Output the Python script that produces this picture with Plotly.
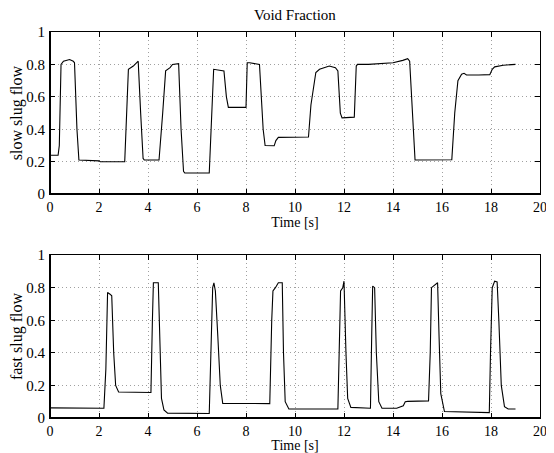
import plotly.graph_objects as go
from plotly.subplots import make_subplots

# Slow slug flow (top panel): time [s], void fraction
slow_t = [0, 0.33, 0.38, 0.45, 0.55, 0.8, 0.95, 1.0, 1.1, 1.18, 2.0, 2.05, 3.05, 3.2, 3.4, 3.6, 3.7, 3.8, 3.85,
          4.45, 4.6, 4.72, 4.9, 5.0, 5.25, 5.35, 5.45, 5.5, 6.5, 6.6, 6.68, 7.1, 7.2, 7.28, 8.0, 8.05, 8.15,
          8.55, 8.7, 8.78, 9.15, 9.22, 9.32, 10.55, 10.65, 10.85, 11.0, 11.4, 11.65, 11.75, 11.85, 11.92,
          12.42, 12.5, 12.55, 13.0, 14.0, 14.4, 14.6, 14.68, 14.8, 14.9, 16.4, 16.52, 16.65, 16.8, 16.9,
          17.0, 17.5, 17.95, 18.05, 18.15, 18.5, 19.0]
slow_v = [0.24, 0.24, 0.30, 0.80, 0.82, 0.83, 0.82, 0.81, 0.40, 0.21, 0.205, 0.20, 0.20, 0.77, 0.79, 0.82, 0.50, 0.22, 0.21,
          0.21, 0.50, 0.76, 0.78, 0.80, 0.805, 0.40, 0.14, 0.13, 0.13, 0.50, 0.77, 0.76, 0.60, 0.535, 0.535, 0.81, 0.81,
          0.80, 0.40, 0.30, 0.298, 0.33, 0.35, 0.352, 0.55, 0.75, 0.77, 0.79, 0.78, 0.76, 0.50, 0.47,
          0.475, 0.79, 0.80, 0.80, 0.81, 0.825, 0.835, 0.82, 0.50, 0.21, 0.212, 0.50, 0.70, 0.74, 0.745,
          0.735, 0.735, 0.737, 0.77, 0.785, 0.795, 0.80]

# Fast slug flow (bottom panel)
fast_t = [0, 2.2, 2.28, 2.35, 2.45, 2.52, 2.6, 2.68, 2.8, 4.12, 4.18, 4.22, 4.42, 4.48, 4.55, 4.65, 4.8,
          6.5, 6.58, 6.64, 6.69, 6.75, 6.85, 6.95, 7.05, 8.97, 9.05, 9.1, 9.2, 9.32, 9.48, 9.53, 9.6, 9.75,
          11.75, 11.82, 11.86, 11.95, 12.0, 12.08, 12.15, 12.28, 13.08, 13.13, 13.17, 13.25, 13.32, 13.42, 13.55,
          14.15, 14.33, 14.42, 14.5, 14.6, 15.45, 15.52, 15.57, 15.75, 15.82, 15.88, 15.95, 16.1, 17.0,
          17.93, 17.98, 18.05, 18.15, 18.25, 18.32, 18.42, 18.55, 18.7, 19.0]
fast_v = [0.062, 0.06, 0.30, 0.77, 0.76, 0.75, 0.40, 0.20, 0.16, 0.157, 0.60, 0.83, 0.83, 0.50, 0.12, 0.05, 0.03,
          0.028, 0.50, 0.80, 0.83, 0.78, 0.50, 0.20, 0.09, 0.088, 0.60, 0.78, 0.80, 0.83, 0.83, 0.40, 0.10, 0.055,
          0.055, 0.50, 0.78, 0.80, 0.84, 0.40, 0.12, 0.065, 0.06, 0.50, 0.81, 0.80, 0.40, 0.10, 0.06,
          0.06, 0.068, 0.075, 0.10, 0.102, 0.105, 0.40, 0.80, 0.82, 0.83, 0.50, 0.15, 0.04, 0.035,
          0.033, 0.40, 0.80, 0.84, 0.835, 0.60, 0.20, 0.07, 0.055, 0.055]

x_ticks = [0, 2, 4, 6, 8, 10, 12, 14, 16, 18, 20]
y_ticks = [0, 0.2, 0.4, 0.6, 0.8, 1]
y_tick_text = ["0", "0.2", "0.4", "0.6", "0.8", "1"]

FONT = "Liberation Serif"

fig = make_subplots(rows=2, cols=1, vertical_spacing=0.158)
fig.add_trace(go.Scatter(x=slow_t, y=slow_v, mode="lines", line=dict(color="black", width=1.1),
                         showlegend=False), row=1, col=1)
fig.add_trace(go.Scatter(x=fast_t, y=fast_v, mode="lines", line=dict(color="black", width=1.1),
                         showlegend=False), row=2, col=1)

axis_common = dict(showline=True, linecolor="black", linewidth=1, mirror="allticks",
                   ticks="inside", ticklen=5, tickcolor="black", tickwidth=1,
                   showgrid=True, gridcolor="#a0a0a0", griddash="1px,3px", gridwidth=1,
                   zeroline=False, automargin=False)

for r in (1, 2):
    fig.update_xaxes(range=[0, 20], tickvals=x_ticks, ticktext=[str(v) for v in x_ticks],
                     ticklabelstandoff=0, tickfont=dict(family=FONT, size=14, color="black"),
                     title=dict(text="Time [s]", font=dict(family=FONT, size=14, color="black"), standoff=1),
                     row=r, col=1, **axis_common)
    fig.update_yaxes(range=[0, 1], tickvals=y_ticks, ticktext=y_tick_text, ticklabelstandoff=1,
                     tickfont=dict(family=FONT, size=15, color="black"),
                     row=r, col=1, **axis_common)

fig.update_yaxes(title=dict(text="slow slug flow", font=dict(family=FONT, size=16, color="black"), standoff=0),
                 row=1, col=1)
fig.update_yaxes(title=dict(text="fast slug flow", font=dict(family=FONT, size=16, color="black"), standoff=0),
                 row=2, col=1)

# page body has an 8px margin: figure is 546x445, offset by (8, 8)
fig.update_layout(
    width=546, height=445,
    margin=dict(l=42, r=14, t=24, b=35),
    paper_bgcolor="white", plot_bgcolor="white",
    font=dict(family=FONT, color="black"),
    yaxis=dict(domain=[0.580, 1.0]),
    yaxis2=dict(domain=[0.0, 0.422]),
    annotations=[dict(text="Void Fraction", x=0.5, xref="paper", y=1.0, yref="paper",
                      yanchor="bottom", yshift=7, showarrow=False,
                      font=dict(family=FONT, size=15, color="black"))],
)

# thicker left/bottom axis lines (MATLAB style)
for xr, yr in (("x", "y"), ("x2", "y2")):
    fig.add_shape(type="line", xref=f"{xr} domain", yref=f"{yr} domain", x0=0, x1=0, y0=0, y1=1,
                  line=dict(color="black", width=2))
    fig.add_shape(type="line", xref=f"{xr} domain", yref=f"{yr} domain", x0=0, x1=1, y0=0, y1=0,
                  line=dict(color="black", width=2))

fig.write_html("out.html")
